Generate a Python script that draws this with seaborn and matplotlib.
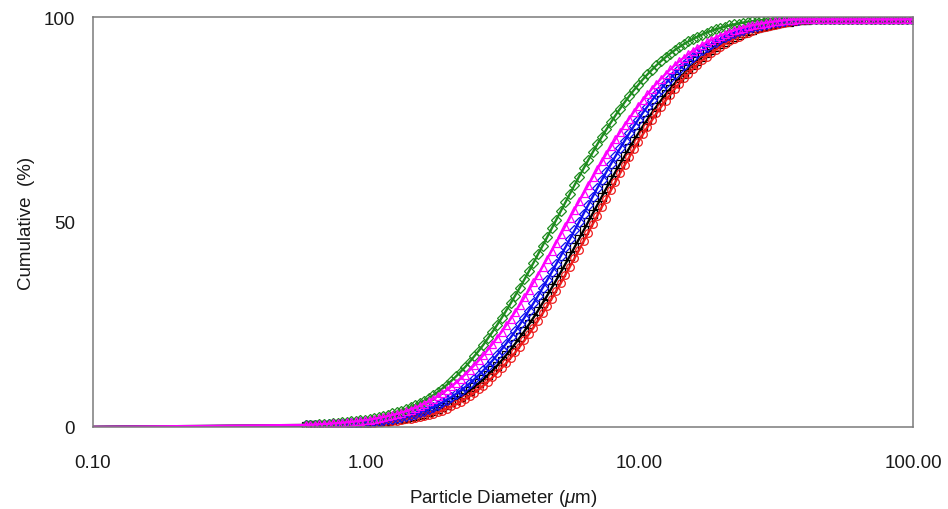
import matplotlib
matplotlib.use("Agg")
import matplotlib.pyplot as plt
from matplotlib.ticker import FixedLocator, NullFormatter
import pandas as pd
import seaborn as sns

# particle diameter grid (um): main channels + in-between channels
# first point only carries the flat line at 0
diameter = [0.1, 0.600, 0.648, 0.700, 0.756, 0.816, 0.881, 0.951, 1.027, 1.109, 1.198,
            1.293, 1.396, 1.507, 1.627, 1.757, 1.897, 2.049, 2.212, 2.389, 2.580,
            2.785, 3.007, 3.247, 3.506, 3.786, 4.088, 4.414, 4.766, 5.146, 5.557,
            6.000, 6.479, 6.996, 7.554, 8.157, 8.807, 9.510, 10.27, 11.09, 11.97,
            12.93, 13.96, 15.07, 16.27, 17.57, 18.97, 20.49, 22.12, 23.89, 25.80,
            27.85, 30.07, 32.47, 35.06, 37.86, 40.88, 44.14, 47.66, 51.46, 55.57,
            60.00, 64.79, 69.96, 75.54, 81.57, 88.07, 95.10, 102.7]
diameter_mid = [0.6235, 0.6734, 0.7274, 0.7855, 0.8481, 0.9155, 0.9883, 1.067, 1.152,
                1.245, 1.344, 1.451, 1.566, 1.691, 1.826, 1.971, 2.129, 2.299, 2.482,
                2.681, 2.894, 3.125, 3.374, 3.643, 3.934, 4.248, 4.587, 4.952, 5.347,
                5.774, 6.235, 6.732, 7.270, 7.850, 8.476, 9.152, 9.882, 10.67, 11.52,
                12.44, 13.43, 14.51, 15.66, 16.91, 18.26, 19.71, 21.29, 22.99, 24.82,
                26.81, 28.94, 31.25, 33.74, 36.43, 39.34, 42.48, 45.87, 49.53, 53.47,
                57.74, 62.35, 67.32, 72.70, 78.50, 84.76, 91.52, 98.82]

# cumulative undersize (%) per sample
black = [0, 0.35, 0.4, 0.48, 0.57, 0.68, 0.8, 0.95, 1.12, 1.32, 1.57, 1.87, 2.25, 2.7,
         3.25, 3.95, 4.85, 5.99, 7.31, 8.87, 10.66, 12.69, 14.96, 17.52, 20.33, 23.36,
         26.66, 30.19, 33.91, 37.75, 41.76, 45.86, 50.00, 54.14, 58.24, 62.25, 66.09,
         69.81, 73.34, 76.64, 79.67, 82.48, 85.04, 87.31, 89.34, 91.13, 92.69, 94.01,
         95.15, 96.11, 96.90, 97.56, 98.10, 98.53, 98.88, 99.15, 99.36, 99.4, 99.4,
         99.4, 99.4, 99.4, 99.4, 99.4, 99.4, 99.4, 99.4, 99.4, 99.4]
black_mid = [0.37, 0.44, 0.52, 0.62, 0.74, 0.87, 1.03, 1.22, 1.44, 1.72, 2.05, 2.47,
             2.97, 3.58, 4.38, 5.38, 6.62, 8.08, 9.73, 11.64, 13.81, 16.21, 18.90,
             21.83, 25.02, 28.40, 32.02, 35.83, 39.74, 43.80, 47.93, 52.07, 56.20,
             60.26, 64.17, 67.98, 71.60, 74.98, 78.17, 81.10, 83.79, 86.19, 88.35,
             90.27, 91.92, 93.36, 94.61, 95.65, 96.52, 97.25, 97.85, 98.32, 98.71,
             99.02, 99.26, 99.4, 99.4, 99.4, 99.4, 99.4, 99.4, 99.4, 99.4, 99.4, 99.4,
             99.4, 99.4]
red = [0, 0.35, 0.4, 0.46, 0.53, 0.61, 0.7, 0.81, 0.94, 1.1, 1.3, 1.55, 1.85, 2.2,
       2.65, 3.2, 4.01, 5.01, 6.19, 7.58, 9.21, 11.07, 13.18, 15.55, 18.20, 21.10,
       24.26, 27.69, 31.31, 35.12, 39.09, 43.17, 47.33, 51.52, 55.72, 59.83, 63.83,
       67.69, 71.36, 74.83, 78.08, 81.06, 83.77, 86.21, 88.40, 90.32, 92.00, 93.46,
       94.70, 95.74, 96.61, 97.33, 97.91, 98.39, 98.77, 99.07, 99.30, 99.4, 99.4,
       99.4, 99.4, 99.4, 99.4, 99.4, 99.4, 99.4, 99.4, 99.4, 99.4]
red_mid = [0.37, 0.43, 0.49, 0.57, 0.65, 0.75, 0.87, 1.02, 1.2, 1.42, 1.7, 2.02, 2.42,
           2.92, 3.58, 4.5, 5.58, 6.86, 8.36, 10.11, 12.11, 14.35, 16.86, 19.63, 22.69,
           25.97, 29.50, 33.21, 37.11, 41.14, 45.30, 49.48, 53.67, 57.81, 61.87, 65.80,
           69.57, 73.14, 76.50, 79.61, 82.46, 85.04, 87.35, 89.40, 91.20, 92.76, 94.10,
           95.24, 96.20, 96.99, 97.64, 98.16, 98.59, 98.92, 99.19, 99.40, 99.4, 99.4,
           99.4, 99.4, 99.4, 99.4, 99.4, 99.4, 99.4, 99.4, 99.4]
blue = [0, 0.4, 0.48, 0.57, 0.68, 0.8, 0.95, 1.12, 1.32, 1.57, 1.87, 2.25, 2.7, 3.25,
        3.95, 4.85, 5.99, 7.31, 8.87, 10.66, 12.69, 14.96, 17.52, 20.33, 23.36, 26.66,
        30.19, 33.91, 37.75, 41.76, 45.86, 50.00, 54.14, 58.24, 62.25, 66.09, 69.81,
        73.34, 76.64, 79.67, 82.48, 85.04, 87.31, 89.34, 91.13, 92.69, 94.01, 95.15,
        96.11, 96.90, 97.56, 98.10, 98.53, 98.88, 99.15, 99.36, 99.4, 99.4, 99.4,
        99.4, 99.4, 99.4, 99.4, 99.4, 99.4, 99.4, 99.4, 99.4, 99.4]
blue_mid = [0.44, 0.52, 0.62, 0.74, 0.87, 1.03, 1.22, 1.44, 1.72, 2.05, 2.47, 2.97,
            3.58, 4.38, 5.38, 6.62, 8.08, 9.73, 11.64, 13.81, 16.21, 18.90, 21.83,
            25.02, 28.40, 32.02, 35.83, 39.74, 43.80, 47.93, 52.07, 56.20, 60.26,
            64.17, 67.98, 71.60, 74.98, 78.17, 81.10, 83.79, 86.19, 88.35, 90.27,
            91.92, 93.36, 94.61, 95.65, 96.52, 97.25, 97.85, 98.32, 98.71, 99.02,
            99.26, 99.4, 99.4, 99.4, 99.4, 99.4, 99.4, 99.4, 99.4, 99.4, 99.4, 99.4,
            99.4, 99.4]
green = [0, 0.5, 0.6, 0.75, 0.9, 1.1, 1.35, 1.65, 2.0, 2.45, 3.0, 3.65, 4.4, 5.3,
         6.4, 7.75, 9.38, 11.30, 13.46, 15.91, 18.62, 21.62, 24.86, 28.37, 32.06,
         35.98, 40.05, 44.20, 48.44, 52.67, 56.91, 61.06, 65.06, 68.93, 72.57, 76.02,
         79.19, 82.12, 84.78, 87.14, 89.25, 91.09, 92.69, 94.05, 95.21, 96.19, 96.99,
         97.65, 98.18, 98.61, 98.94, 99.21, 99.4, 99.4, 99.4, 99.4, 99.4, 99.4, 99.4,
         99.4, 99.4, 99.4, 99.4, 99.4, 99.4, 99.4, 99.4, 99.4, 99.4]
green_mid = [0.55, 0.67, 0.82, 1.0, 1.22, 1.5, 1.82, 2.22, 2.72, 3.32, 4.0, 4.85, 5.85,
             7.05, 8.52, 10.29, 12.35, 14.64, 17.24, 20.08, 23.21, 26.57, 30.19, 33.98,
             37.98, 42.11, 46.30, 50.56, 54.78, 58.98, 63.08, 67.00, 70.78, 74.31,
             77.64, 80.68, 83.46, 85.99, 88.22, 90.20, 91.91, 93.39, 94.65, 95.72,
             96.61, 97.33, 97.93, 98.40, 98.78, 99.08, 99.32, 99.4, 99.4, 99.4, 99.4,
             99.4, 99.4, 99.4, 99.4, 99.4, 99.4, 99.4, 99.4, 99.4, 99.4, 99.4, 99.4]
magenta = [0, 0.5, 0.6, 0.72, 0.86, 1.03, 1.25, 1.5, 1.8, 2.2, 2.65, 3.2, 3.85, 4.65,
           5.65, 6.85, 8.26, 9.91, 11.78, 13.90, 16.26, 18.86, 21.71, 24.79, 28.10,
           31.60, 35.27, 39.09, 43.01, 47.01, 51.04, 55.05, 59.02, 62.89, 66.64, 70.23,
           73.63, 76.82, 79.79, 82.51, 84.99, 87.22, 89.21, 90.97, 92.51, 93.83, 94.97,
           95.93, 96.74, 97.41, 97.96, 98.41, 98.77, 99.06, 99.29, 99.4, 99.4, 99.4,
           99.4, 99.4, 99.4, 99.4, 99.4, 99.4, 99.4, 99.4, 99.4, 99.4, 99.4]
magenta_mid = [0.55, 0.66, 0.79, 0.94, 1.14, 1.37, 1.65, 1.99, 2.42, 2.92, 3.52, 4.24,
               5.13, 6.23, 7.53, 9.04, 10.80, 12.80, 15.04, 17.52, 20.25, 23.21, 26.40,
               29.80, 33.39, 37.15, 41.02, 44.99, 49.00, 53.03, 57.02, 60.95, 64.77,
               68.44, 71.94, 75.23, 78.32, 81.16, 83.77, 86.12, 88.23, 90.11, 91.76,
               93.19, 94.42, 95.47, 96.35, 97.09, 97.70, 98.20, 98.60, 98.92, 99.18,
               99.38, 99.4, 99.4, 99.4, 99.4, 99.4, 99.4, 99.4, 99.4, 99.4, 99.4, 99.4,
               99.4, 99.4]

x_ticks = [0.1, 1, 10, 100]
x_tick_labels = ["0.10", "1.00", "10.00", "100.00"]
y_ticks = [0, 50, 100]

series = [
    (black, black_mid, "#000000", "s"),
    (red, red_mid, "#ee1c1c", "o"),
    (blue, blue_mid, "#1010ee", "D"),
    (green, green_mid, "#1f8c1f", "D"),
    (magenta, magenta_mid, "#ff00ff", "^"),
]

sns.set_theme(style="white")
plt.rcParams["font.family"] = ["Liberation Sans", "DejaVu Sans"]
plt.rcParams["mathtext.fontset"] = "custom"
plt.rcParams["mathtext.rm"] = "Liberation Sans"
plt.rcParams["mathtext.it"] = "Liberation Sans:italic"

fig, ax = plt.subplots(figsize=(9.48, 5.10), dpi=100)
fig.subplots_adjust(left=0.0981, right=0.9631, bottom=0.1608, top=0.9647)

for vals, vals_mid, col, mk in series:
    df = pd.concat([pd.DataFrame({"d": diameter, "cum": vals}),
                    pd.DataFrame({"d": diameter_mid, "cum": vals_mid})])
    df = df.sort_values("d")
    sns.lineplot(data=df, x="d", y="cum", ax=ax, color=col, linewidth=1.7,
                 marker=mk, markersize=5.5, markerfacecolor="none",
                 markeredgecolor=col, markeredgewidth=0.9,
                 markevery=slice(1, None), sort=False, errorbar=None)

ax.set_xscale("log")
ax.set_xlim(0.1, 100)
ax.set_ylim(0, 100)

ax.xaxis.set_major_locator(FixedLocator(x_ticks))
ax.set_xticklabels(x_tick_labels)
minors = [m * 10.0 ** e for e in (-1, 0, 1) for m in range(2, 10)]
ax.xaxis.set_minor_locator(FixedLocator(minors))
ax.xaxis.set_minor_formatter(NullFormatter())
ax.set_yticks(y_ticks)
ax.yaxis.set_minor_locator(FixedLocator([25, 75]))

grey = "#7a7a7a"
for sp in ax.spines.values():
    sp.set_color(grey)
    sp.set_linewidth(1.1)
ax.tick_params(which="major", direction="out", length=9.5, width=1.0,
               color=grey, labelsize=13.5, labelcolor="#1a1a1a")
ax.tick_params(which="minor", direction="out", length=4.3, width=0.9, color=grey)
ax.tick_params(axis="x", which="major", pad=10)
ax.tick_params(axis="y", which="major", pad=3.5)

ax.set_xlabel(r"Particle Diameter ($\mathit{\mu}$m)", fontsize=13.5, color="#1a1a1a")
ax.set_ylabel("Cumulative  (%)", fontsize=13.5, color="#1a1a1a")
ax.xaxis.set_label_coords(0.5, -0.147)
ax.yaxis.set_label_coords(-0.071, 0.5)

fig.savefig("out.png", dpi=100)
